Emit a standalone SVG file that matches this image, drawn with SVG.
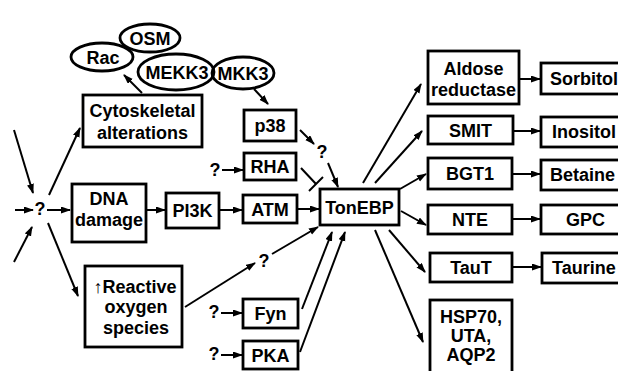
<svg xmlns="http://www.w3.org/2000/svg" width="618" height="371" viewBox="0 0 618 371">
<defs>
<marker id="ah" markerUnits="userSpaceOnUse" markerWidth="10" markerHeight="8" refX="9" refY="3.5" orient="auto">
<path d="M0,0 L10,3.5 L0,7 z" fill="#000"/>
</marker>
<style>
.b{fill:#fff;stroke:#000;stroke-width:2.8}
.e{fill:none;stroke:#000;stroke-width:2.8}
.t{font-family:"Liberation Sans",Arial,Helvetica,sans-serif;font-weight:bold;font-size:18px;fill:#000;text-anchor:middle}
.s{text-anchor:start}
.c line,.c path{stroke:#000;stroke-width:2;fill:none}
.a{marker-end:url(#ah)}
</style>
</defs>
<rect width="618" height="371" fill="#fff"/>

<g class="c" id="connectors">
<line class="a" x1="14" y1="130" x2="33" y2="193"/>
<line class="a" x1="14" y1="262" x2="32" y2="227"/>
<line class="a" x1="15" y1="210" x2="33" y2="210"/>
<line class="a" x1="47" y1="210" x2="70" y2="210"/>
<line class="a" x1="49" y1="195" x2="80" y2="128"/>
<line class="a" x1="48" y1="223" x2="78" y2="296"/>
<line class="a" x1="142" y1="93" x2="124" y2="75"/>
<line class="a" x1="254" y1="89" x2="268" y2="104"/>
<line class="a" x1="146" y1="210" x2="165" y2="210"/>
<line class="a" x1="219" y1="210" x2="242" y2="210"/>
<line class="a" x1="297" y1="209" x2="319" y2="209"/>
<line class="a" x1="300" y1="130" x2="314" y2="144"/>
<line class="a" x1="328" y1="163" x2="338" y2="187"/>
<line x1="301" y1="168" x2="316" y2="184"/>
<line x1="309" y1="191" x2="323" y2="177"/>
<line class="a" x1="222" y1="170" x2="243" y2="170"/>
<line class="a" x1="221" y1="313" x2="242" y2="313"/>
<line class="a" x1="221" y1="355" x2="242" y2="355"/>
<line class="a" x1="185" y1="307" x2="255" y2="263"/>
<line class="a" x1="272" y1="254" x2="318" y2="227"/>
<line class="a" x1="302" y1="309" x2="332" y2="232"/>
<line class="a" x1="300" y1="352" x2="345" y2="232"/>
<line class="a" x1="363" y1="183" x2="421" y2="84"/>
<line class="a" x1="375" y1="183" x2="422" y2="131"/>
<line class="a" x1="400" y1="189" x2="426" y2="174"/>
<line class="a" x1="401" y1="211" x2="426" y2="225"/>
<line class="a" x1="389" y1="230" x2="425" y2="272"/>
<line class="a" x1="375" y1="230" x2="423" y2="342"/>
<line class="a" x1="520" y1="79" x2="540" y2="79"/>
<line class="a" x1="514" y1="131" x2="540" y2="131"/>
<line class="a" x1="513" y1="174" x2="540" y2="174"/>
<line class="a" x1="513" y1="219" x2="540" y2="219"/>
<line class="a" x1="513" y1="267" x2="541" y2="267"/>
</g>

<g id="q-left"><text class="t" x="40" y="215">?</text></g>
<g id="q-p38"><text class="t" x="322" y="158">?</text></g>
<g id="q-rha"><text class="t" x="215" y="176">?</text></g>
<g id="q-ros"><text class="t" x="264" y="267">?</text></g>
<g id="q-fyn"><text class="t" x="214" y="318">?</text></g>
<g id="q-pka"><text class="t" x="214" y="360">?</text></g>

<g id="osm"><ellipse class="e" cx="150" cy="38" rx="30" ry="14"/><text class="t" x="150" y="45">OSM</text></g>
<g id="rac"><ellipse class="e" cx="102" cy="57" rx="31" ry="14"/><text class="t" x="103" y="64">Rac</text></g>
<g id="mekk3"><ellipse class="e" cx="176" cy="72" rx="38" ry="18"/><text class="t" x="177" y="79">MEKK3</text></g>
<g id="mkk3"><ellipse class="e" cx="243" cy="73" rx="31" ry="16"/><text class="t" x="243" y="80">MKK3</text></g>

<g id="cyto"><rect class="b" x="83" y="95" width="119" height="52"/><text class="t" x="142.5" y="117">Cytoskeletal</text><text class="t" x="142.5" y="139">alterations</text></g>
<g id="dna"><rect class="b" x="72" y="184" width="74" height="58"/><text class="t" x="109" y="205">DNA</text><text class="t" x="109" y="226">damage</text></g>
<g id="ros"><rect class="b" x="85" y="266" width="97" height="81"/><text class="t" x="135" y="293"><tspan style="font-weight:normal">↑</tspan>Reactive</text><text class="t" x="136" y="313">oxygen</text><text class="t" x="136" y="334">species</text></g>
<g id="pi3k"><rect class="b" x="166" y="193" width="53" height="35"/><text class="t" x="192.5" y="217">PI3K</text></g>
<g id="p38"><rect class="b" x="244" y="110" width="52" height="31"/><text class="t" x="270" y="132">p38</text></g>
<g id="rha"><rect class="b" x="244" y="153" width="52" height="27"/><text class="t" x="270" y="173">RHA</text></g>
<g id="atm"><rect class="b" x="243" y="195" width="54" height="28"/><text class="t" x="270" y="216">ATM</text></g>
<g id="fyn"><rect class="b" x="243" y="299" width="55" height="29"/><text class="t" x="270.5" y="320">Fyn</text></g>
<g id="pka"><rect class="b" x="243" y="341" width="55" height="28"/><text class="t" x="270.5" y="362">PKA</text></g>
<g id="tonebp"><rect class="b" x="320" y="189" width="79" height="36"/><text class="t" x="359.5" y="214">TonEBP</text></g>

<g id="aldose"><rect class="b" x="428" y="51" width="91" height="53"/><text class="t" x="473.5" y="75">Aldose</text><text class="t" x="473.5" y="96">reductase</text></g>
<g id="smit"><rect class="b" x="428" y="116" width="85" height="28"/><text class="t" x="470.5" y="137">SMIT</text></g>
<g id="bgt1"><rect class="b" x="428" y="158" width="84" height="31"/><text class="t" x="470" y="180">BGT1</text></g>
<g id="nte"><rect class="b" x="428" y="205" width="84" height="29"/><text class="t" x="470" y="226">NTE</text></g>
<g id="taut"><rect class="b" x="430" y="253" width="82" height="29"/><text class="t" x="471" y="274">TauT</text></g>
<g id="hsp"><rect class="b" x="430" y="300" width="82" height="80"/><text class="t" x="471" y="323">HSP70,</text><text class="t" x="471" y="342">UTA,</text><text class="t" x="471" y="361">AQP2</text></g>

<g id="sorbitol"><rect class="b" x="541" y="63" width="90" height="31"/><text class="t s" x="550" y="85">Sorbitol</text></g>
<g id="inositol"><rect class="b" x="541" y="117" width="90" height="30"/><text class="t s" x="552" y="138">Inositol</text></g>
<g id="betaine"><rect class="b" x="541" y="160" width="90" height="30"/><text class="t s" x="550" y="181">Betaine</text></g>
<g id="gpc"><rect class="b" x="541" y="205" width="90" height="29"/><text class="t s" x="566" y="226">GPC</text></g>
<g id="taurine"><rect class="b" x="542" y="253" width="90" height="30"/><text class="t s" x="552" y="274">Taurine</text></g>
</svg>
